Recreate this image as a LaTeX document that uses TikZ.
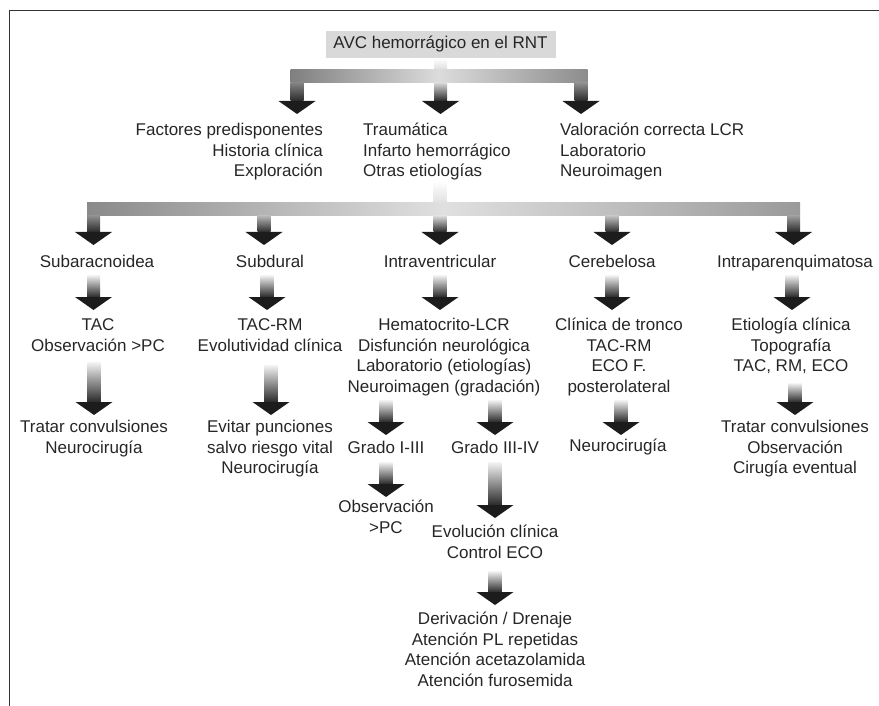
\documentclass[tikz,border=0pt]{standalone}
\usepackage{fontspec}
\setmainfont{Liberation Sans}
\usetikzlibrary{calc}
\definecolor{txt}{HTML}{262626}
\definecolor{headc}{HTML}{1C1C1C}
\definecolor{stemd}{HTML}{2A2A2A}
\definecolor{titlebg}{HTML}{D9D9D9}
\definecolor{framec}{HTML}{333333}
\definecolor{stemlight}{HTML}{F4F4F4}
\definecolor{baraL}{HTML}{7F7F7F}
\definecolor{baraM}{HTML}{DCDCDC}
\definecolor{baraR}{HTML}{8C8C8C}
\definecolor{barbL}{HTML}{8A8A8A}
\definecolor{barbM}{HTML}{E0E0E0}
\definecolor{barbR}{HTML}{9A9A9A}
\definecolor{dA}{HTML}{838383}
\definecolor{dB}{HTML}{D5D5D5}
\definecolor{dC}{HTML}{8E8E8E}
\definecolor{dD}{HTML}{8D8D8D}
\definecolor{dE}{HTML}{B6B6B6}
\definecolor{dF}{HTML}{DADADA}
\definecolor{dG}{HTML}{C0C0C0}
\definecolor{dH}{HTML}{9C9C9C}
% #1 start coordinate, #2 tip coordinate, #3 top colour of the stem
\newcommand{\garrow}[3]{%
  \shade[top color=#3, bottom color=stemd] ($(#1)+(-6.5,0)$) rectangle ($(#2)+(6.5,13)$);
  \fill[headc] ($(#2)+(-18.5,13)$) -- ($(#2)+(18.5,13)$) -- (#2) -- cycle;
}
\begin{document}
\begin{tikzpicture}[x=1pt,y=1pt,
  lbl/.style={font=\fontsize{17}{20.5}\selectfont, text=txt, inner sep=0pt, align=center, anchor=north},
  titlebox/.style={font=\fontsize{17}{20.5}\selectfont, text=txt, fill=titlebg, inner sep=0pt,
    minimum width=230pt, minimum height=27pt, text height=12.4pt, text depth=3.6pt}]
\useasboundingbox (0,0) rectangle (879,-706);
\draw[framec, line width=1.4pt] (879,-10.5) -- (9.5,-10.5) -- (9.5,-706);

% title
\node[titlebox] (title) at (440.5,-44.5) {AVC hemorrágico en el RNT};

% row 2
\node[lbl, anchor=north east, align=right] (fac) at (323,-121) {\strut Factores predisponentes\\Historia clínica\\Exploración};
\node[lbl, anchor=north west, align=left] (etio) at (363,-121) {\strut Traumática\\Infarto hemorrágico\\Otras etiologías};
\node[lbl, anchor=north west, align=left] (val) at (560,-121) {\strut Valoración correcta LCR\\Laboratorio\\Neuroimagen};

% row 3
\node[lbl] (subar) at (97,-253) {\strut Subaracnoidea};
\node[lbl] (subdu) at (270,-253) {\strut Subdural};
\node[lbl] (intrav) at (440,-253) {\strut Intraventricular};
\node[lbl] (cereb) at (612,-253) {\strut Cerebelosa};
\node[lbl] (intrap) at (795,-253) {\strut Intraparenquimatosa};

% row 4
\node[lbl] (subar2) at (98,-316) {\strut TAC\\Observación >PC};
\node[lbl] (subdu2) at (270,-316) {\strut TAC-RM\\Evolutividad clínica};
\node[lbl] (intrav2) at (444,-316) {\strut Hematocrito-LCR\\Disfunción neurológica\\Laboratorio (etiologías)\\Neuroimagen (gradación)};
\node[lbl] (cereb2) at (619,-316) {\strut Clínica de tronco\\TAC-RM\\ECO F.\\posterolateral};
\node[lbl] (intrap2) at (791,-316) {\strut Etiología clínica\\Topografía\\TAC, RM, ECO};

% row 5
\node[lbl] (subar3) at (94,-418) {\strut Tratar convulsiones\\Neurocirugía};
\node[lbl] (subdu3) at (270,-418) {\strut Evitar punciones\\salvo riesgo vital\\Neurocirugía};
\node[lbl] (grA) at (386,-439) {\strut Grado I-III};
\node[lbl] (grB) at (495,-439) {\strut Grado III-IV};
\node[lbl] (cereb3) at (618,-437) {\strut Neurocirugía};
\node[lbl] (intrap3) at (795,-418) {\strut Tratar convulsiones\\Observación\\Cirugía eventual};

% row 6
\node[lbl] (grA2) at (386,-498) {\strut Observación\\>PC};
\node[lbl] (grB2) at (495,-523) {\strut Evolución clínica\\Control ECO};
\node[lbl] (grB3) at (495,-610) {\strut Derivación / Drenaje\\Atención PL repetidas\\Atención acetazolamida\\Atención furosemida};

% ---- first branching connector
\shade[top color=white, bottom color=baraM] ($(title.south)+(-6.5,0)$) rectangle ($(title.south)+(6.5,-12)$);
\shade[left color=baraL, right color=baraR, middle color=baraM] (290.5,-70) rectangle (587.5,-83);
\coordinate (p1s) at (297,-83);  \coordinate (p1t) at (297,-114);
\coordinate (p2s) at (440.5,-83);  \coordinate (p2t) at (440.5,-114);
\coordinate (p3s) at (581,-83);  \coordinate (p3t) at (581,-114);
\garrow{p1s}{p1t}{dA}
\garrow{p2s}{p2t}{dB}
\garrow{p3s}{p3t}{dC}

% ---- second branching connector
\shade[top color=white, bottom color=barbM] (433.5,-181) rectangle (446.5,-203);
\shade[left color=barbL, right color=barbR, middle color=barbM] (87,-203) rectangle (800,-216);
\coordinate (q1s) at (93.5,-216);  \coordinate (q1t) at (93.5,-245);
\coordinate (q2s) at (264,-216);   \coordinate (q2t) at (264,-245);
\coordinate (q3s) at (440,-216);   \coordinate (q3t) at (440,-245);
\coordinate (q4s) at (612,-216);   \coordinate (q4t) at (612,-245);
\coordinate (q5s) at (793.5,-216); \coordinate (q5t) at (793.5,-245);
\garrow{q1s}{q1t}{dD}
\garrow{q2s}{q2t}{dE}
\garrow{q3s}{q3t}{dF}
\garrow{q4s}{q4t}{dG}
\garrow{q5s}{q5t}{dH}

% ---- row 3 -> row 4
\coordinate (r1s) at (93.5,-275); \coordinate (r1t) at (93.5,-310);
\coordinate (r2s) at (267,-275);  \coordinate (r2t) at (267,-310);
\coordinate (r3s) at (440,-275);  \coordinate (r3t) at (440,-310);
\coordinate (r4s) at (612,-275);  \coordinate (r4t) at (612,-310);
\coordinate (r5s) at (792,-275);  \coordinate (r5t) at (792,-310);
\foreach \n in {1,...,5}{\garrow{r\n s}{r\n t}{stemlight}}

% ---- row 4 -> row 5
\coordinate (u1s) at (94,-362);  \coordinate (u1t) at (94,-415);
\coordinate (u2s) at (271,-365); \coordinate (u2t) at (271,-415);
\coordinate (u3s) at (386,-400); \coordinate (u3t) at (386,-435);
\coordinate (u4s) at (495,-400); \coordinate (u4t) at (495,-435);
\coordinate (u5s) at (621,-400); \coordinate (u5t) at (621,-435);
\coordinate (u6s) at (795,-383); \coordinate (u6t) at (795,-415);
\foreach \n in {1,...,6}{\garrow{u\n s}{u\n t}{stemlight}}

% ---- row 5 -> row 6 and below
\coordinate (v1s) at (386,-462); \coordinate (v1t) at (386,-497);
\coordinate (v2s) at (495,-462); \coordinate (v2t) at (495,-518);
\coordinate (v3s) at (495,-571); \coordinate (v3t) at (495,-605);
\foreach \n in {1,2,3}{\garrow{v\n s}{v\n t}{stemlight}}
\end{tikzpicture}
\end{document}
